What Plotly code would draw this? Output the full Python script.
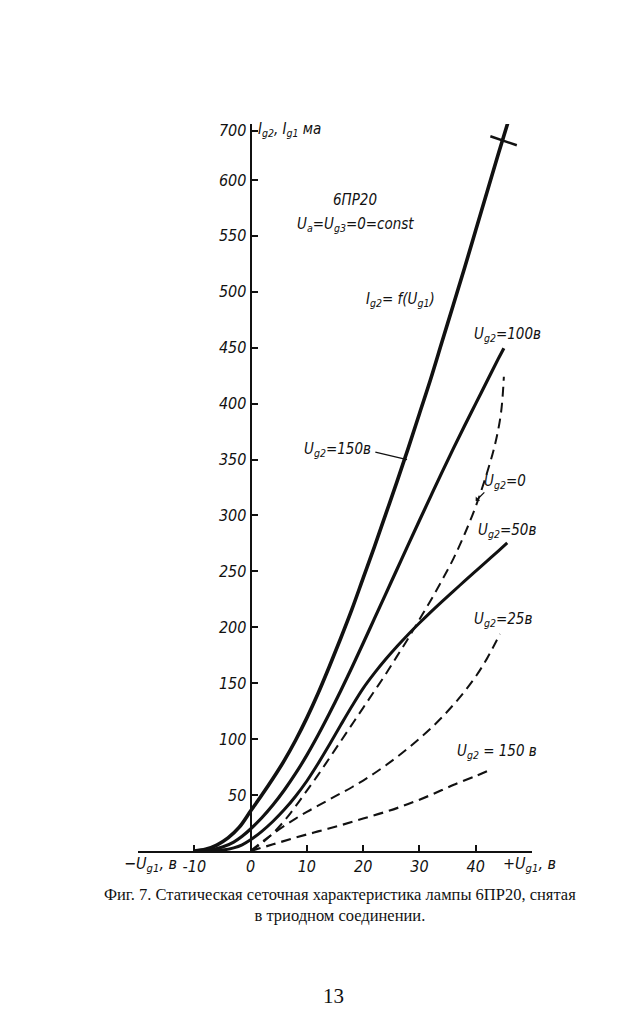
import plotly.graph_objects as go

# ---- data ----
# screen-grid current Ig2 (solid), Ug2 = 150 V
ug1_s150 = [-10, -8, -6, -4, -2, 0, 2, 4, 6, 8, 10, 12, 14, 16, 18, 20, 22, 24, 26, 28, 30, 32, 34, 36, 38, 40, 42, 44, 45.7]
ig_s150 = [0, 1.5, 5.3, 11.7, 21.3, 35.7, 50, 65, 81, 99, 119, 141, 165, 190, 216, 244, 272, 301, 330, 360, 391, 422, 455, 488, 521, 555, 589, 623, 651]
# Ug2 = 100 V
ug1_s100 = [-9, -7, -5, -3, -1.5, 0, 2, 4, 6, 8, 10, 12, 14, 16, 18, 20, 22, 24, 26, 28, 30, 32, 34, 36, 38, 40, 42, 44, 45]
ig_s100 = [0, 1, 3.5, 8, 13.2, 19.7, 29.7, 41.3, 54.5, 69.3, 85.7, 103.7, 122.9, 143.1, 164.1, 185.7, 207.7, 229.7, 251.7, 273.7, 295.5, 317.1, 338.5, 359.5, 380, 400, 420, 440, 449.6]
# Ug2 = 50 V
ug1_s50 = [-7, -5, -3, -1.5, 0, 2, 4, 6, 8, 10, 12, 14, 16, 18, 20, 22, 24, 26, 28, 30, 32, 34, 36, 38, 40, 42, 44, 45.6]
ig_s50 = [0, 0.8, 2.8, 5.5, 10, 17.6, 26.6, 37, 49, 62.6, 78.2, 95, 112.4, 129.4, 145.4, 159, 171.4, 182.8, 193.6, 203.8, 213.6, 223, 232.2, 241.2, 250.2, 259.2, 268.2, 275.4]
# control-grid current Ig1 (dashed), Ug2 = 0
ug1_d0 = [0, 2, 4, 6, 8, 10, 12, 14, 16, 18, 20, 22, 24, 26, 28, 30, 32, 34, 36, 38, 40, 42, 43.5, 44.5, 45]
ig_d0 = [0, 7, 16, 27, 40, 54, 68, 83, 98, 113, 128, 143, 158, 174, 190, 207, 224, 242, 261, 283, 308, 338, 365, 392, 424]
# Ug2 = 25 V
ug1_d25 = [0, 2, 4, 6, 8, 10, 12, 14, 16, 18, 20, 22, 24, 26, 28, 30, 32, 34, 36, 38, 40, 42, 44.3]
ig_d25 = [0, 8, 15.5, 22.5, 29, 35, 40.5, 46, 51.5, 57, 63, 69.5, 76.5, 84, 92, 100.5, 109.5, 119.5, 130.5, 142.5, 156, 172, 194]
# Ug2 = 150 V
ug1_d150 = [0, 4, 8, 12, 16, 20, 24, 28, 32, 36, 40, 42.3]
ig_d150 = [0, 6, 12, 17.5, 23, 29, 35, 42, 50, 59, 67, 72]
# end cross-mark on the Ig2 (150 V) curve
cross_x = [42.6, 47.3]
cross_y = [639, 631]

y_tickvals = [50, 100, 150, 200, 250, 300, 350, 400, 450, 500, 550, 600, 644]
y_ticktext = ["50", "100", "150", "200", "250", "300", "350", "400", "450", "500", "550", "600", "700"]
x_tickvals = [-20, -10, 0, 10, 20, 30, 40, 50]
x_ticktext = ["", "-10", "0", "10", "20", "30", "40", ""]

INK = "#111111"
NARROW = "Liberation Sans Narrow, DejaVu Sans Condensed, sans-serif"
SERIF = "Liberation Serif, DejaVu Serif, serif"

fig = go.Figure()
for xs, ys, w, dash in [
    (ug1_s150, ig_s150, 3.6, "solid"),
    (ug1_s100, ig_s100, 3.2, "solid"),
    (ug1_s50, ig_s50, 3.0, "solid"),
    (ug1_d0, ig_d0, 2.0, "10px,6px"),
    (ug1_d25, ig_d25, 2.0, "10px,6px"),
    (ug1_d150, ig_d150, 2.2, "10px,6px"),
]:
    fig.add_trace(go.Scatter(x=xs, y=ys, mode="lines",
                             line=dict(color=INK, width=w, dash=dash, shape="spline", smoothing=1.0),
                             hoverinfo="skip", showlegend=False))
fig.add_trace(go.Scatter(x=cross_x, y=cross_y, mode="lines",
                         line=dict(color=INK, width=2.5), hoverinfo="skip", showlegend=False))

lab = dict(family=NARROW, size=15, color=INK, style="italic")
ann = []
def A(text, x, y, **kw):
    d = dict(text=text, x=x, y=y, xref="x", yref="y", showarrow=False, font=lab)
    d.update(kw)
    ann.append(d)

A("I<sub>g2</sub>, I<sub>g1</sub> ма", 0.9, 645, xanchor="left")
A("6ПР20", 18.6, 582)
A("U<sub>a</sub>=U<sub>g3</sub>=0=const", 18.6, 560)
A("I<sub>g2</sub>= f(U<sub>g1</sub>)", 26.6, 493)
A("U<sub>g2</sub>=100в", 45.6, 462)
A("U<sub>g2</sub>=150в", 21.8, 359, xanchor="right")
A("U<sub>g2</sub>=0", 45.2, 330)
A("U<sub>g2</sub>=50в", 45.6, 287)
A("U<sub>g2</sub>=25в", 44.9, 207)
A("U<sub>g2</sub> = 150 в", 43.8, 89)
# leader lines
ann.append(dict(x=27.8, y=350, ax=21.9, ay=357, xref="x", yref="y", axref="x", ayref="y",
                text="", showarrow=True, arrowhead=0, arrowwidth=1.3, arrowcolor=INK))
ann.append(dict(x=40.0, y=313, ax=41.8, ay=322, xref="x", yref="y", axref="x", ayref="y",
                text="", showarrow=True, arrowhead=1, arrowsize=0.8, arrowwidth=1.3, arrowcolor=INK))
# axis end labels
ann.append(dict(text="−U<sub>g1</sub>, в", x=-17.7, y=0, xref="x", yref="paper", yanchor="top",
                yshift=-1, showarrow=False, font=dict(family=NARROW, size=16, color=INK, style="italic")))
ann.append(dict(text="+U<sub>g1</sub>, в", x=49.6, y=0, xref="x", yref="paper", yanchor="top",
                yshift=-1, showarrow=False, font=dict(family=NARROW, size=16, color=INK, style="italic")))
# caption and page number
ann.append(dict(text="Фиг. 7. Статическая сеточная характеристика лампы 6ПР20, снятая<br>в триодном соединении.",
                x=0.513, y=(851 - 905) / 727, xref="paper", yref="paper", showarrow=False,
                xanchor="center", yanchor="middle", align="center",
                font=dict(family=SERIF, size=16.5, color=INK)))
ann.append(dict(text="13", x=0.495, y=(851 - 996) / 727, xref="paper", yref="paper", showarrow=False,
                xanchor="center", yanchor="middle",
                font=dict(family=SERIF, size=21, color=INK)))

tickfont = dict(family=NARROW, size=16, color=INK, style="italic")
fig.update_layout(
    width=635, height=1024,
    margin=dict(l=138, r=103, t=124, b=173),
    paper_bgcolor="white", plot_bgcolor="white",
    annotations=ann,
    xaxis=dict(range=[-20, 50], domain=[0, 1], showgrid=False, zeroline=False,
               showline=True, linecolor=INK, linewidth=2,
               tickmode="array", tickvals=x_tickvals, ticktext=x_ticktext,
               ticks="inside", ticklen=6, tickwidth=1.5, tickcolor=INK, tickfont=tickfont),
    yaxis=dict(range=[0, 650], anchor="free", position=20 / 70, showgrid=False, zeroline=False,
               showline=True, linecolor=INK, linewidth=2,
               tickmode="array", tickvals=y_tickvals, ticktext=y_ticktext,
               ticks="inside", ticklen=6, tickwidth=1.5, tickcolor=INK, tickfont=tickfont),
)
fig.write_html("out.html")
